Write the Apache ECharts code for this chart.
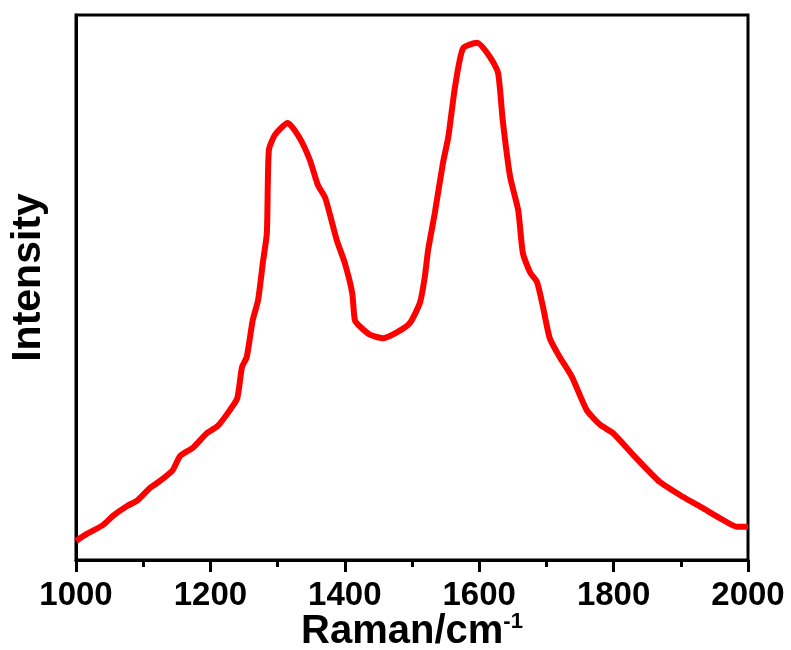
<!DOCTYPE html>
<html>
<head>
<meta charset="utf-8">
<script src="https://cdn.jsdelivr.net/npm/echarts@6/dist/echarts.min.js"></script>
<style>
    html, body { margin: 0; padding: 0; background: #fff; }
</style>
</head>
<body>
<div style="width:791px;height:650px;" id="raman_con"></div>
<script>
// Raman shift (cm-1) and intensity (arbitrary units)
const shift = [1000, 1016, 1040, 1055, 1076, 1092, 1110, 1125, 1144, 1155, 1174, 1195, 1211, 1229, 1240,
    1247, 1254, 1263, 1271, 1278, 1284, 1287, 1296, 1315, 1333, 1348, 1360, 1371, 1388, 1400,
    1411, 1415, 1423, 1438, 1457, 1478, 1497, 1512, 1519, 1524, 1534, 1546, 1554, 1564, 1576,
    1597, 1616, 1628, 1635, 1646, 1658, 1665, 1676, 1686, 1695, 1705, 1720, 1738, 1760, 1780,
    1799, 1829, 1869, 1903, 1933, 1958, 1984, 2000];
const intensity = [3.5, 4.8, 6.4, 8.1, 9.9, 11.0, 13.2, 14.5, 16.5, 19.1, 20.6, 23.3, 24.6, 27.5, 29.7,
    35.4, 37.2, 44.0, 47.7, 54.5, 60.0, 75.2, 78.0, 80.2, 77.4, 73.4, 68.8, 66.4, 58.7, 54.5,
    49.0, 44.0, 42.8, 41.3, 40.7, 41.8, 43.5, 47.3, 51.9, 56.9, 63.7, 72.8, 77.6, 86.8, 93.9,
    94.9, 92.3, 89.4, 80.7, 70.3, 64.2, 56.3, 52.7, 51.0, 46.4, 40.7, 37.2, 33.6, 27.5, 24.8,
    23.3, 19.3, 14.3, 11.6, 9.5, 7.7, 6.1, 6.1];
const xTicks = [1000, 1200, 1400, 1600, 1800, 2000];

let chart = echarts.init(document.getElementById('raman_con'));
let data = shift.map((s, i) => [s, intensity[i]]);
const font = 'Liberation Sans, Arial, sans-serif';

const option = {
    animation: false,
    grid: {
        show: true,
        left: 76,
        right: 43,
        top: 15,
        bottom: 90,
        borderColor: '#000',
        borderWidth: 3,
        containLabel: false,
        outerBoundsMode: 'none'
    },
    xAxis: {
        type: 'value',
        min: xTicks[0],
        max: xTicks[xTicks.length - 1],
        interval: 200,
        name: 'Raman/cm{sup|-1}',
        nameLocation: 'middle',
        nameGap: 51,
        nameMoveOverlap: false,
        nameTextStyle: {
            fontFamily: font,
            fontWeight: 'bold',
            fontSize: 40,
            color: '#000',
            rich: {
                sup: {
                    fontFamily: font,
                    fontWeight: 'bold',
                    fontSize: 22,
                    color: '#000',
                    verticalAlign: 'top',
                    padding: [0, 0, 20, 0]
                }
            }
        },
        axisLine: { lineStyle: { color: '#000', width: 3 } },
        axisTick: { inside: false, length: 12, lineStyle: { color: '#000', width: 3 } },
        minorTick: { show: true, splitNumber: 2, length: 7, lineStyle: { color: '#000', width: 3 } },
        splitLine: { show: false },
        axisLabel: {
            margin: 19,
            fontFamily: font,
            fontWeight: 'bold',
            fontSize: 33,
            color: '#000',
            formatter: (v) => String(v)
        }
    },
    yAxis: {
        type: 'value',
        min: 0,
        max: 100,
        name: 'Intensity',
        nameLocation: 'middle',
        nameGap: 27,
        nameMoveOverlap: false,
        nameTextStyle: {
            fontFamily: font,
            fontWeight: 'bold',
            fontSize: 41,
            color: '#000',
            padding: [0, 0, 0, 20]
        },
        axisLine: { show: true, lineStyle: { color: '#000', width: 3 } },
        axisTick: { show: false },
        axisLabel: { show: false },
        splitLine: { show: false }
    },
    series: [
        {
            type: 'line',
            data: data,
            showSymbol: false,
            smooth: 0.2,
            lineStyle: { color: '#ff0000', width: 6 },
            itemStyle: { color: '#ff0000' }
        }
    ]
};

chart.setOption(option);
</script>
</body>
</html>
